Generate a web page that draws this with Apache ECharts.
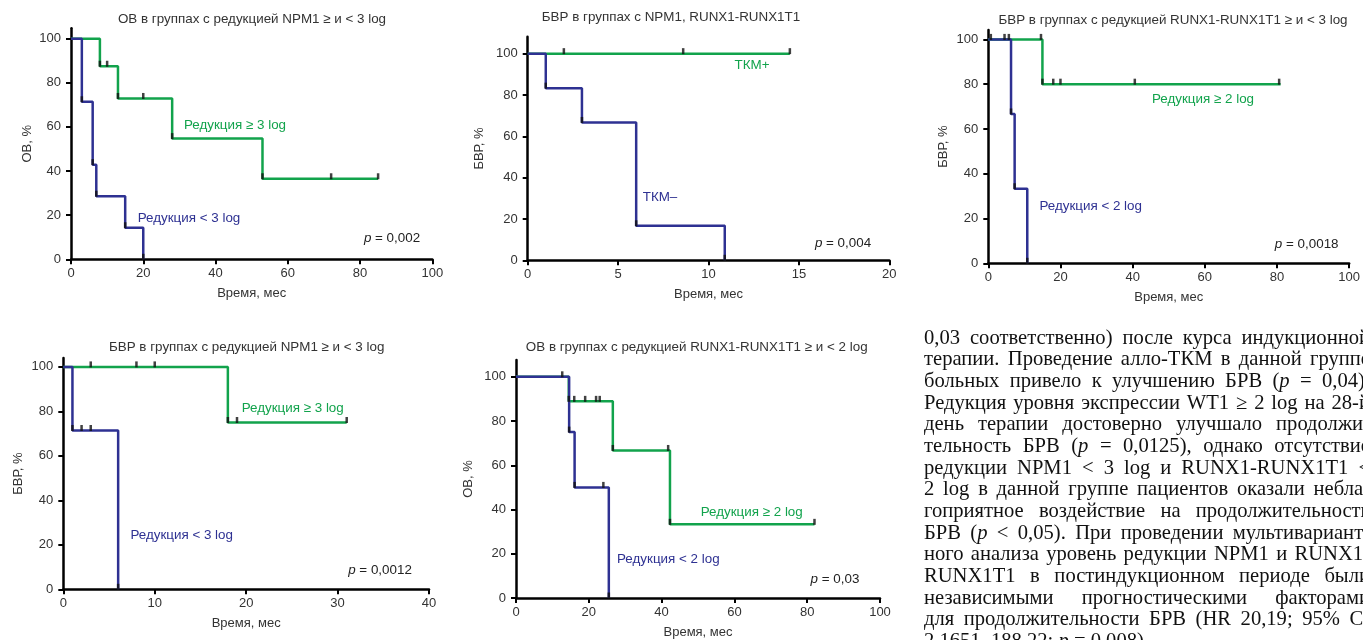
<!DOCTYPE html>
<html>
<head>
<meta charset="utf-8">
<script src="https://cdn.jsdelivr.net/npm/echarts@6/dist/echarts.min.js"></script>
<style>
  html, body { margin:0; padding:0; background:#fff; width:1363px; height:640px; overflow:hidden; }
  #chart { position:absolute; left:0; top:0; width:1363px; height:640px; }
  #text { position:absolute; left:924px; top:326.5px; width:446px; font-family:"Liberation Serif","Times New Roman",serif; font-size:20.6px; color:#111; }
  #text .ln { height:21.7px; line-height:21.7px; white-space:pre; }
</style>
</head>
<body>
<div id="chart"></div>
<div id="text"></div>
<script>
// ---------- DATA ----------
const GREEN = '#12a34c';
const BLUE = '#2e3192';

// Chart 1: ОВ, NPM1
const c1Title = 'ОВ в группах с редукцией NPM1 ≥ и < 3 log';
const c1YName = 'ОВ, %';
const c1XTicks = [0, 20, 40, 60, 80, 100];
const c1GreenTime = [0, 8, 13, 28, 53, 85];
const c1GreenSurv = [100, 87.5, 72.9, 54.7, 36.5, 36.5];
const c1GreenCensTime = [10, 20, 72, 85];
const c1GreenCensSurv = [87.5, 72.9, 36.5, 36.5];
const c1BlueTime = [0, 3, 6, 7, 15, 20];
const c1BlueSurv = [100, 71.4, 42.9, 28.6, 14.3, 0];
const c1BlueCensTime = [];
const c1BlueCensSurv = [];
const c1GreenLabel = 'Редукция ≥ 3 log';
const c1BlueLabel = 'Редукция < 3 log';
const c1P = '0,002';

// Chart 2: БВР, ТКМ
const c2Title = 'БВР в группах с NPM1, RUNX1-RUNX1T1';
const c2YName = 'БВР, %';
const c2XTicks = [0, 5, 10, 15, 20];
const c2GreenTime = [0, 14.5];
const c2GreenSurv = [100, 100];
const c2GreenCensTime = [2, 8.6, 14.5];
const c2GreenCensSurv = [100, 100, 100];
const c2BlueTime = [0, 1, 3, 6, 10.9];
const c2BlueSurv = [100, 83.3, 66.7, 16.7, 0];
const c2BlueCensTime = [];
const c2BlueCensSurv = [];
const c2GreenLabel = 'ТКМ+';
const c2BlueLabel = 'ТКМ–';
const c2P = '0,004';

// Chart 3: БВР, RUNX1-RUNX1T1
const c3Title = 'БВР в группах с редукцией RUNX1-RUNX1T1 ≥ и < 3 log';
const c3YName = 'БВР, %';
const c3XTicks = [0, 20, 40, 60, 80, 100];
const c3GreenTime = [0, 15, 81];
const c3GreenSurv = [100, 80, 80];
const c3GreenCensTime = [0.7, 14.6, 18, 20, 40.6, 80.6];
const c3GreenCensSurv = [100, 100, 80, 80, 80, 80];
const c3BlueTime = [0, 6.3, 7.3, 10.8];
const c3BlueSurv = [100, 66.7, 33.3, 0];
const c3BlueCensTime = [4.5, 5.7];
const c3BlueCensSurv = [100, 100];
const c3GreenLabel = 'Редукция ≥ 2 log';
const c3BlueLabel = 'Редукция < 2 log';
const c3P = '0,0018';

// Chart 4: БВР, NPM1
const c4Title = 'БВР в группах с редукцией NPM1 ≥ и < 3 log';
const c4YName = 'БВР, %';
const c4XTicks = [0, 10, 20, 30, 40];
const c4GreenTime = [0, 18, 31];
const c4GreenSurv = [100, 75, 75];
const c4GreenCensTime = [3, 8, 10, 19, 31];
const c4GreenCensSurv = [100, 100, 100, 75, 75];
const c4BlueTime = [0, 1, 6];
const c4BlueSurv = [100, 71.4, 0];
const c4BlueCensTime = [2, 3];
const c4BlueCensSurv = [71.4, 71.4];
const c4GreenLabel = 'Редукция ≥ 3 log';
const c4BlueLabel = 'Редукция < 3 log';
const c4P = '0,0012';

// Chart 5: ОВ, RUNX1-RUNX1T1
const c5Title = 'ОВ в группах с редукцией RUNX1-RUNX1T1 ≥ и < 2 log';
const c5YName = 'ОВ, %';
const c5XTicks = [0, 20, 40, 60, 80, 100];
const c5GreenTime = [0, 14.5, 26.6, 42.3, 82];
const c5GreenSurv = [100, 88.9, 66.7, 33.3, 33.3];
const c5GreenCensTime = [12.7, 16, 19, 22, 23, 41.8, 82];
const c5GreenCensSurv = [100, 88.9, 88.9, 88.9, 88.9, 66.7, 33.3];
const c5BlueTime = [0, 14.6, 16.1, 25.5];
const c5BlueSurv = [100, 75, 50, 0];
const c5BlueCensTime = [24];
const c5BlueCensSurv = [50];
const c5GreenLabel = 'Редукция ≥ 2 log';
const c5BlueLabel = 'Редукция < 2 log';
const c5P = '0,03';

const yTicks = [0, 20, 40, 60, 80, 100];
const xName = 'Время, мес';

const textLines = [
  '0,03 соответственно) после курса индукционной',
  'терапии. Проведение алло-ТКМ в данной группе',
  'больных привело к улучшению БРВ (<i>p</i> = 0,04).',
  'Редукция уровня экспрессии WT1 ≥ 2 log на 28-й',
  'день терапии достоверно улучшало продолжи-',
  'тельность БРВ (<i>p</i> = 0,0125), однако отсутствие',
  'редукции NPM1 &lt; 3 log и RUNX1-RUNX1T1 &lt;',
  '2 log в данной группе пациентов оказали небла-',
  'гоприятное воздействие на продолжительность',
  'БРВ (<i>p</i> &lt; 0,05). При проведении мультивариант-',
  'ного анализа уровень редукции NPM1 и RUNX1-',
  'RUNX1T1 в постиндукционном периоде были',
  'независимыми прогностическими факторами',
  'для продолжительности БРВ (HR 20,19; 95% CI',
  '2,1651–188,22; <i>p</i> = 0,008).'
];

// ---------- LAYOUT ----------
const FONT = '"Liberation Sans", Arial, sans-serif';
const panels = [
  { title:c1Title, yName:c1YName, xTicks:c1XTicks, gT:c1GreenTime, gS:c1GreenSurv, gCT:c1GreenCensTime, gCS:c1GreenCensSurv,
    bT:c1BlueTime, bS:c1BlueSurv, bCT:c1BlueCensTime, bCS:c1BlueCensSurv, gL:c1GreenLabel, bL:c1BlueLabel, p:c1P,
    grid:{left:71, top:28.3, width:361.3, height:231}, yMax:104.7, yGap:37,
    titlePos:[252,19], gPos:[235,125.7], bPos:[189,218.3], pPos:[392,238.7] },
  { title:c2Title, yName:c2YName, xTicks:c2XTicks, gT:c2GreenTime, gS:c2GreenSurv, gCT:c2GreenCensTime, gCS:c2GreenCensSurv,
    bT:c2BlueTime, bS:c2BlueSurv, bCT:c2BlueCensTime, bCS:c2BlueCensSurv, gL:c2GreenLabel, bL:c2BlueLabel, p:c2P,
    grid:{left:527.7, top:36.7, width:361.6, height:223.6}, yMax:108.2, yGap:42,
    titlePos:[671,17], gPos:[752,65.7], bPos:[660,197.7], pPos:[843,243] },
  { title:c3Title, yName:c3YName, xTicks:c3XTicks, gT:c3GreenTime, gS:c3GreenSurv, gCT:c3GreenCensTime, gCS:c3GreenCensSurv,
    bT:c3BlueTime, bS:c3BlueSurv, bCT:c3BlueCensTime, bCS:c3BlueCensSurv, gL:c3GreenLabel, bL:c3BlueLabel, p:c3P,
    grid:{left:988.3, top:30, width:366.7, height:233.3}, yMax:104.2, yGap:38,
    titlePos:[1173,20.7], gPos:[1203,99.3], bPos:[1090.7,206], pPos:[1306.7,244] },
  { title:c4Title, yName:c4YName, xTicks:c4XTicks, gT:c4GreenTime, gS:c4GreenSurv, gCT:c4GreenCensTime, gCS:c4GreenCensSurv,
    bT:c4BlueTime, bS:c4BlueSurv, bCT:c4BlueCensTime, bCS:c4BlueCensSurv, gL:c4GreenLabel, bL:c4BlueLabel, p:c4P,
    grid:{left:63.3, top:358, width:365.7, height:231.3}, yMax:104.0, yGap:38,
    titlePos:[246.7,347.3], gPos:[292.7,408.7], bPos:[181.7,535.7], pPos:[380,570.7] },
  { title:c5Title, yName:c5YName, xTicks:c5XTicks, gT:c5GreenTime, gS:c5GreenSurv, gCT:c5GreenCensTime, gCS:c5GreenCensSurv,
    bT:c5BlueTime, bS:c5BlueSurv, bCT:c5BlueCensTime, bCS:c5BlueCensSurv, gL:c5GreenLabel, bL:c5BlueLabel, p:c5P,
    grid:{left:516, top:360, width:364, height:239.3}, yMax:107.6, yGap:41,
    titlePos:[696.7,347.3], gPos:[751.7,512.7], bPos:[668.3,559.3], pPos:[835,579.3] }
];

const zip = (a, b) => a.map((v, i) => [v, b[i]]);
const eventPts = (t, s) => {
  const out = [];
  for (let i = 1; i < t.length; i++) if (s[i] < s[i-1]) out.push([t[i], s[i]]);
  return out;
};

const grids = [], xAxes = [], yAxes = [], series = [], graphics = [];
const axisText = { color:'#333', fontSize:13, fontFamily:FONT };
const F13 = '13.4px ' + FONT;

panels.forEach((P, k) => {
  grids.push(Object.assign({ containLabel:false }, P.grid));
  const xt = P.xTicks;
  xAxes.push({
    gridIndex:k, type:'value', min:xt[0], max:xt[xt.length-1], interval:xt[1]-xt[0],
    axisLine:{ onZero:false, lineStyle:{ color:'#000', width:2.5 } },
    axisTick:{ length:5, lineStyle:{ color:'#000', width:2 } },
    axisLabel:Object.assign({ margin:8 }, axisText),
    splitLine:{ show:false },
    name:xName, nameLocation:'middle', nameGap:28, nameTextStyle:Object.assign({}, axisText)
  });
  yAxes.push({
    gridIndex:k, type:'value', min:0, max:P.yMax,
    axisLine:{ show:true, onZero:false, lineStyle:{ color:'#000', width:2.5 } },
    axisTick:{ show:true, length:5, customValues:yTicks, lineStyle:{ color:'#000', width:2 } },
    axisLabel:Object.assign({ margin:10, customValues:yTicks }, axisText),
    splitLine:{ show:false },
    name:P.yName, nameLocation:'middle', nameGap:P.yGap, nameTextStyle:Object.assign({}, axisText)
  });
  const lineS = (t, s, color) => ({
    type:'line', xAxisIndex:k, yAxisIndex:k, data:zip(t, s), step:'end', symbol:'none',
    lineStyle:{ color, width:2.5 }, silent:true, animation:false, z:3
  });
  series.push(lineS(P.gT, P.gS, GREEN));
  series.push(lineS(P.bT, P.bS, BLUE));
  const marks = eventPts(P.gT, P.gS).concat(eventPts(P.bT, P.bS), zip(P.gCT, P.gCS), zip(P.bCT, P.bCS));
  series.push({
    type:'scatter', xAxisIndex:k, yAxisIndex:k, data:marks, symbol:'rect',
    symbolSize:[2.5, 6], symbolOffset:[0, -2.5], itemStyle:{ color:'#111' }, silent:true, animation:false, z:4
  });
  graphics.push({ type:'text', x:P.titlePos[0], y:P.titlePos[1],
    style:{ text:P.title, textAlign:'center', textVerticalAlign:'middle', font:F13, fill:'#333' } });
  graphics.push({ type:'text', x:P.gPos[0], y:P.gPos[1],
    style:{ text:P.gL, textAlign:'center', textVerticalAlign:'middle', font:F13, fill:GREEN } });
  graphics.push({ type:'text', x:P.bPos[0], y:P.bPos[1],
    style:{ text:P.bL, textAlign:'center', textVerticalAlign:'middle', font:F13, fill:BLUE } });
  graphics.push({ type:'text', x:P.pPos[0], y:P.pPos[1],
    style:{ text:'{i|p} = ' + P.p, textAlign:'center', textVerticalAlign:'middle', font:F13, fill:'#222',
      rich:{ i:{ fontStyle:'italic', fontSize:13.4, fontFamily:FONT, fill:'#222' } } } });
});

const chart = echarts.init(document.getElementById('chart'), null, { renderer:'canvas' });
chart.setOption({
  animation:false,
  backgroundColor:'#fff',
  grid:grids, xAxis:xAxes, yAxis:yAxes, series:series,
  graphic:{ elements:graphics }
});

// ---------- TEXT COLUMN ----------
const box = document.getElementById('text');
const TARGET = 446;
textLines.forEach((html, i) => {
  const d = document.createElement('div');
  d.className = 'ln';
  const sp = document.createElement('span');
  sp.innerHTML = html;
  d.appendChild(sp);
  box.appendChild(d);
  if (i < textLines.length - 1) {
    const w = sp.getBoundingClientRect().width;
    const spaces = (sp.textContent.match(/ /g) || []).length;
    if (spaces > 0) sp.style.wordSpacing = ((TARGET - w) / spaces) + 'px';
  }
});
</script>
</body>
</html>
